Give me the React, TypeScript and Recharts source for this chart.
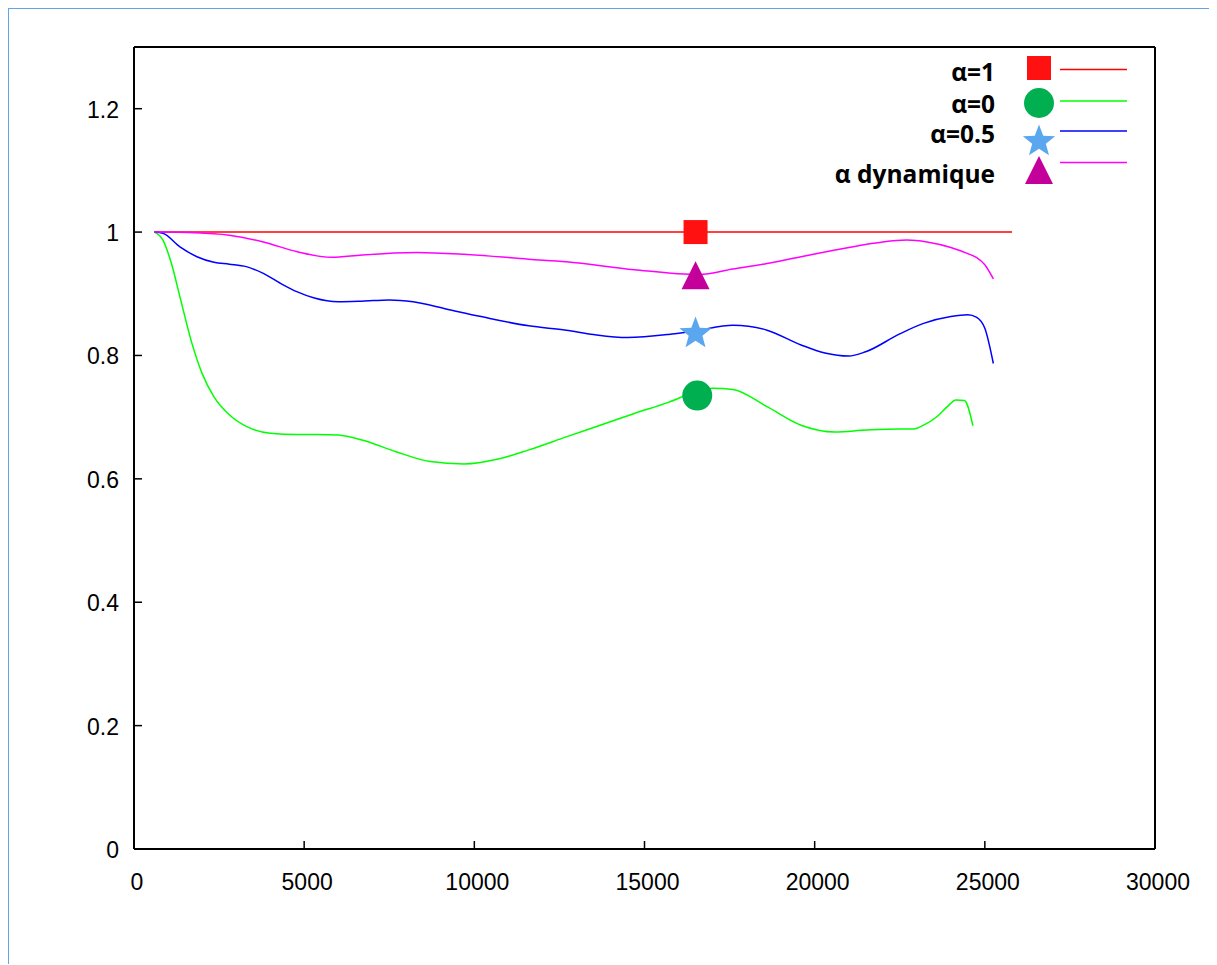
import React from 'react'
import { ComposedChart, Line, Scatter, XAxis, YAxis, Legend } from 'recharts'

// series order: alpha=1, alpha=0, alpha=0.5, alpha dynamique
const seriesNames = ['α=1', 'α=0', 'α=0.5', 'α dynamique']
const lineColors = ['#FF0000', '#00FF00', '#0000FF', '#FF00FF']
const markerColors = ['#FF1111', '#00B050', '#5AA7F0', '#C4009A']
const markerKinds = ['square', 'circle', 'star', 'triangle']

const xTicks = [0, 5000, 10000, 15000, 20000, 25000, 30000]
const yTicks = [0, 0.2, 0.4, 0.6, 0.8, 1, 1.2]

const alpha1X = [600, 25800]
const alpha1Y = [1, 1]

const alpha0X = [600, 850, 1100, 1350, 1700, 2000, 2350, 2800, 3300, 4000, 4800, 5400, 6000, 6700, 7700, 8700, 9700, 10700, 11600, 12700, 13700, 14700, 15700, 16500, 17000, 17600, 18600, 19600, 20600, 21500, 22500, 22900, 23200, 23600, 23900, 24150, 24400, 24650]
const alpha0Y = [1.0, 0.987, 0.949, 0.895, 0.82, 0.771, 0.733, 0.704, 0.685, 0.674, 0.672, 0.672, 0.671, 0.663, 0.644, 0.628, 0.624, 0.632, 0.647, 0.668, 0.687, 0.706, 0.724, 0.741, 0.747, 0.745, 0.717, 0.687, 0.676, 0.679, 0.681, 0.681, 0.687, 0.701, 0.717, 0.728, 0.727, 0.686]

const alpha05X = [600, 850, 1350, 1850, 2350, 2800, 3300, 3800, 4300, 4800, 5300, 6000, 6700, 7500, 8200, 9200, 10200, 11600, 12700, 13500, 14500, 15700, 16500, 17600, 18600, 19600, 20300, 21000, 21500, 22500, 23200, 24000, 24500, 24750, 25000, 25250]
const alpha05Y = [1.0, 0.998, 0.976, 0.96, 0.951, 0.948, 0.944, 0.933, 0.917, 0.903, 0.893, 0.887, 0.888, 0.89, 0.887, 0.875, 0.863, 0.848, 0.841, 0.834, 0.829, 0.834, 0.84, 0.849, 0.841, 0.817, 0.804, 0.799, 0.806, 0.835, 0.852, 0.863, 0.866, 0.862, 0.844, 0.787]

const dynX = [600, 1800, 2800, 3800, 4800, 5800, 6700, 8300, 9700, 11600, 12700, 14700, 16600, 17600, 18600, 19600, 20600, 21500, 22000, 22700, 23300, 24000, 24500, 24750, 25000, 25250]
const dynY = [1.0, 0.999, 0.995, 0.984, 0.968, 0.959, 0.963, 0.967, 0.964, 0.956, 0.952, 0.939, 0.931, 0.94, 0.949, 0.96, 0.971, 0.98, 0.984, 0.987, 0.984, 0.975, 0.965, 0.959, 0.947, 0.924]

// one highlighted point per series
const markerX = [16500, 16550, 16500, 16500]
const markerY = [1.0, 0.735, 0.838, 0.93]

const zip = (xs: number[], ys: number[]) => xs.map((x, i) => ({ x, y: ys[i] }))
const seriesData = [zip(alpha1X, alpha1Y), zip(alpha0X, alpha0Y), zip(alpha05X, alpha05Y), zip(dynX, dynY)]

// plot box in chart coords
const PL = 125
const PT = 38
const PR = 1146
const PB = 840

const tickFont = '"Liberation Sans", Arial, sans-serif'

function Marker({ kind, cx, cy, color }: { kind: string; cx: number; cy: number; color: string }) {
  if (kind === 'square') return <rect x={cx - 12} y={cy - 12} width={24} height={24} fill={color} />
  if (kind === 'circle') return <circle cx={cx} cy={cy} r={15} fill={color} />
  if (kind === 'triangle') {
    return <polygon points={`${cx},${cy - 14} ${cx - 14},${cy + 14} ${cx + 14},${cy + 14}`} fill={color} />
  }
  const pts: string[] = []
  for (let i = 0; i < 10; i++) {
    const r = i % 2 === 0 ? 17 : 7.2
    const a = -Math.PI / 2 + (i * Math.PI) / 5
    pts.push(`${cx + r * Math.cos(a)},${cy + 1.5 + r * Math.sin(a)}`)
  }
  return <polygon points={pts.join(' ')} fill={color} />
}

const LeftTick = (p: any) => (
  <g>
    <line x1={PL} x2={PL + 8} y1={p.y} y2={p.y} stroke="#000" strokeWidth={1.5} />
    <text x={PL - 15} y={p.y + 9} textAnchor="end" fontSize={23} fontFamily={tickFont} fill="#000">
      {p.payload.value}
    </text>
  </g>
)

const BottomTick = (p: any) => (
  <g>
    <line x1={p.x} x2={p.x} y1={PB} y2={PB - 8} stroke="#000" strokeWidth={1.5} />
    <text x={p.x + 3} y={PB + 41} textAnchor="middle" fontSize={23} fontFamily={tickFont} fill="#000">
      {p.payload.value}
    </text>
  </g>
)

const TopTick = (p: any) => <line x1={p.x} x2={p.x} y1={PT} y2={PT + 8} stroke="#000" strokeWidth={1.5} />
const RightTick = (p: any) => <line x1={PR} x2={PR - 8} y1={p.y} y2={p.y} stroke="#000" strokeWidth={1.5} />

// legend rows: label baseline, symbol centre, line y (local coords)
const legendRows = [
  { base: 41, sy: 28, ly: 29.5 },
  { base: 73, sy: 63, ly: 61 },
  { base: 103, sy: 100, ly: 91 },
  { base: 143, sy: 130, ly: 122.5 },
]

function LegendBox() {
  return (
    <svg width={340} height={170} style={{ display: 'block' }}>
      {seriesNames.map((name, i) => (
        <g key={name}>
          <text x={175} y={legendRows[i].base} textAnchor="end" fontSize={24.5} fontWeight={700}
            fontFamily='"Open Sans", sans-serif' fill="#000">{name}</text>
          <Marker kind={markerKinds[i]} cx={219} cy={legendRows[i].sy} color={markerColors[i]} />
          <line x1={240} x2={307} y1={legendRows[i].ly} y2={legendRows[i].ly} stroke={lineColors[i]} strokeWidth={1.5} />
        </g>
      ))}
    </svg>
  )
}

export default function App() {
  return (
    <div
      style={{
        width: 1209,
        height: 957,
        margin: '-1px 0 0 -1px',
        borderLeft: '2px solid #5EA6EC',
        borderTop: '2px solid #5EA6EC',
        boxSizing: 'border-box',
        background: '#fff',
      }}
    >
      <ComposedChart width={1205} height={950} margin={{ top: PT, right: 1205 - PR, bottom: 50, left: 40 }}>
        <XAxis
          xAxisId="b"
          dataKey="x"
          type="number"
          domain={[0, 30000]}
          ticks={xTicks}
          height={60}
          tickLine={false}
          tick={BottomTick}
          axisLine={{ stroke: '#000', strokeWidth: 2 }}
          interval={0}
        />
        <XAxis
          xAxisId="t"
          orientation="top"
          type="number"
          domain={[0, 30000]}
          ticks={xTicks}
          height={1}
          mirror
          tickLine={false}
          tick={TopTick}
          axisLine={{ stroke: '#000', strokeWidth: 2 }}
          interval={0}
        />
        <YAxis
          yAxisId="l"
          type="number"
          domain={[0, 1.3]}
          ticks={yTicks}
          width={85}
          tickLine={false}
          tick={LeftTick}
          axisLine={{ stroke: '#000', strokeWidth: 2 }}
          interval={0}
        />
        <YAxis
          yAxisId="r"
          orientation="right"
          type="number"
          domain={[0, 1.3]}
          ticks={yTicks}
          width={1}
          mirror
          tickLine={false}
          tick={RightTick}
          axisLine={{ stroke: '#000', strokeWidth: 2 }}
          interval={0}
        />
        {seriesData.map((d, i) => (
          <Line
            key={seriesNames[i]}
            xAxisId="b"
            yAxisId="l"
            data={d}
            dataKey="y"
            name={seriesNames[i]}
            type="monotone"
            stroke={lineColors[i]}
            strokeWidth={1.5}
            dot={false}
            activeDot={false}
            isAnimationActive={false}
          />
        ))}
        {markerX.map((mx, i) => (
          <Scatter
            key={'m' + i}
            xAxisId="b"
            yAxisId="l"
            data={[{ x: mx, y: markerY[i] }]}
            dataKey="y"
            isAnimationActive={false}
            shape={(p: any) => <Marker kind={markerKinds[i]} cx={p.cx} cy={p.cy} color={markerColors[i]} />}
          />
        ))}
        <Legend
          layout="vertical"
          align="center"
          verticalAlign="middle"
          content={() => <LegendBox />}
          wrapperStyle={{ position: 'absolute', left: 811, top: 31, width: 340, height: 170 }}
        />
      </ComposedChart>
    </div>
  )
}
